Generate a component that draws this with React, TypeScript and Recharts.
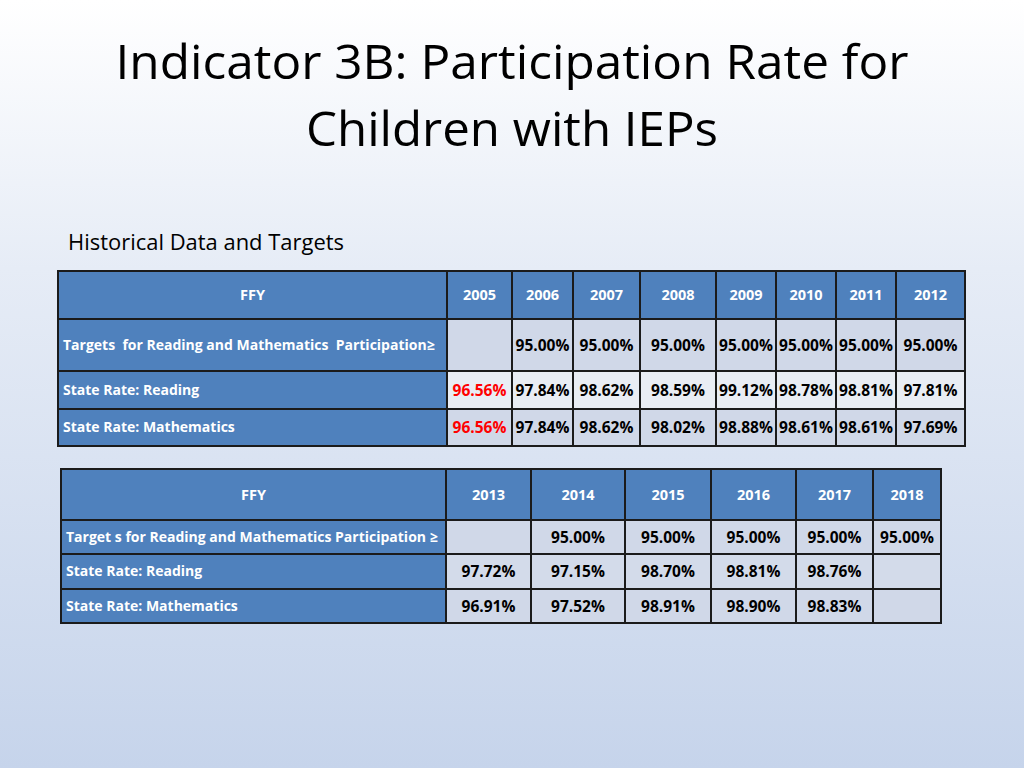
import { Layer, Rectangle, Surface, Text } from 'recharts'

const FONT = "'Open Sans', 'DejaVu Sans', sans-serif"
const BLUE = '#4F81BD'
const LINE = '#1b1b1b'

const titleLines = ['Indicator 3B: Participation Rate for', 'Children with IEPs']
const subtitle = 'Historical Data and Targets'

const yearsA = ['2005', '2006', '2007', '2008', '2009', '2010', '2011', '2012']
const labelsA = [
  'Targets\u00A0 for Reading and Mathematics\u00A0 Participation≥',
  'State Rate: Reading',
  'State Rate: Mathematics',
]
const targetsA = [null, 95.0, 95.0, 95.0, 95.0, 95.0, 95.0, 95.0]
const readingA = [96.56, 97.84, 98.62, 98.59, 99.12, 98.78, 98.81, 97.81]
const mathA = [96.56, 97.84, 98.62, 98.02, 98.88, 98.61, 98.61, 97.69]

const yearsB = ['2013', '2014', '2015', '2016', '2017', '2018']
const labelsB = [
  'Target s for Reading and Mathematics Participation ≥',
  'State Rate: Reading',
  'State Rate: Mathematics',
]
const targetsB = [null, 95.0, 95.0, 95.0, 95.0, 95.0]
const readingB = [97.72, 97.15, 98.7, 98.81, 98.76, null]
const mathB = [96.91, 97.52, 98.91, 98.9, 98.83, null]

// years whose state rates are shown in red
const redYears = ['2005']

type Cell = number | null

interface TableProps {
  years: string[]
  labels: string[]
  rows: Cell[][]
  colEdges: number[]
  rowEdges: number[]
  rowFills: string[]
}

const fmt = (v: Cell) => (v == null ? '' : `${v.toFixed(2)}%`)

const DataTable = ({ years, labels, rows, colEdges, rowEdges, rowFills }: TableProps) => {
  const mid = (a: number[], i: number) => (a[i] + a[i + 1]) / 2
  return (
    <Layer>
      {/* header row */}
      {['FFY', ...years].map((h, c) => (
        <Layer key={`h${c}`}>
          <Rectangle
            x={colEdges[c]}
            y={rowEdges[0]}
            width={colEdges[c + 1] - colEdges[c]}
            height={rowEdges[1] - rowEdges[0]}
            fill={BLUE}
            stroke={LINE}
            strokeWidth={2}
          />
          <Text
            x={mid(colEdges, c)}
            y={mid(rowEdges, 0)}
            textAnchor="middle"
            verticalAnchor="middle"
            fill="#fff"
            fontFamily={FONT}
            fontWeight={700}
            fontSize={14.5}
          >
            {h}
          </Text>
        </Layer>
      ))}
      {rows.map((row, r) => (
        <Layer key={`r${r}`}>
          <Rectangle
            x={colEdges[0]}
            y={rowEdges[r + 1]}
            width={colEdges[1] - colEdges[0]}
            height={rowEdges[r + 2] - rowEdges[r + 1]}
            fill={BLUE}
            stroke={LINE}
            strokeWidth={2}
          />
          <Text
            x={colEdges[0] + 5}
            y={mid(rowEdges, r + 1)}
            textAnchor="start"
            verticalAnchor="middle"
            fill="#fff"
            fontFamily={FONT}
            fontWeight={700}
            fontSize={14}
          >
            {labels[r]}
          </Text>
          {row.map((v, c) => (
            <Layer key={`c${c}`}>
              <Rectangle
                x={colEdges[c + 1]}
                y={rowEdges[r + 1]}
                width={colEdges[c + 2] - colEdges[c + 1]}
                height={rowEdges[r + 2] - rowEdges[r + 1]}
                fill={rowFills[r]}
                stroke={LINE}
                strokeWidth={2}
              />
              <Text
                x={mid(colEdges, c + 1)}
                y={mid(rowEdges, r + 1)}
                textAnchor="middle"
                verticalAnchor="middle"
                fill={r > 0 && redYears.includes(years[c]) ? '#FF0000' : '#000'}
                fontFamily={FONT}
                fontWeight={700}
                fontSize={15.5}
              >
                {fmt(v)}
              </Text>
            </Layer>
          ))}
        </Layer>
      ))}
    </Layer>
  )
}

export default function App() {
  return (
    <div style={{ position: 'absolute', left: 0, top: 0, width: 1024, height: 768 }}>
      <Surface width={1024} height={768}>
        <defs>
          <linearGradient id="bg" x1="0" y1="0" x2="0" y2="1">
            <stop offset="0%" stopColor="#ffffff" />
            <stop offset="35%" stopColor="#e6ecf6" />
            <stop offset="100%" stopColor="#c6d4eb" />
          </linearGradient>
        </defs>
        <rect x={0} y={0} width={1024} height={768} fill="url(#bg)" />
        <Text x={512} y={79} textAnchor="middle" fontFamily={FONT} fontSize={48} fill="#000" textLength={793} lengthAdjust="spacingAndGlyphs">
          {titleLines[0]}
        </Text>
        <Text x={512} y={146} textAnchor="middle" fontFamily={FONT} fontSize={48} fill="#000" textLength={412} lengthAdjust="spacingAndGlyphs">
          {titleLines[1]}
        </Text>
        <Text x={68} y={250} textAnchor="start" fontFamily={FONT} fontSize={21} fill="#000" textLength={276} lengthAdjust="spacingAndGlyphs">
          {subtitle}
        </Text>
        <DataTable
          years={yearsA}
          labels={labelsA}
          rows={[targetsA, readingA, mathA]}
          colEdges={[58, 447, 512, 573, 640, 716, 776, 836, 896, 965]}
          rowEdges={[271, 319, 371, 409, 446]}
          rowFills={['#D0D8E8', '#E9EDF4', '#D0D8E8']}
        />
        <DataTable
          years={yearsB}
          labels={labelsB}
          rows={[targetsB, readingB, mathB]}
          colEdges={[61, 446, 531, 625, 711, 796, 873, 941]}
          rowEdges={[469, 520, 554, 589, 623]}
          rowFills={['#D0D8E8', '#D3DBEA', '#D0D8E8']}
        />
      </Surface>
    </div>
  )
}
